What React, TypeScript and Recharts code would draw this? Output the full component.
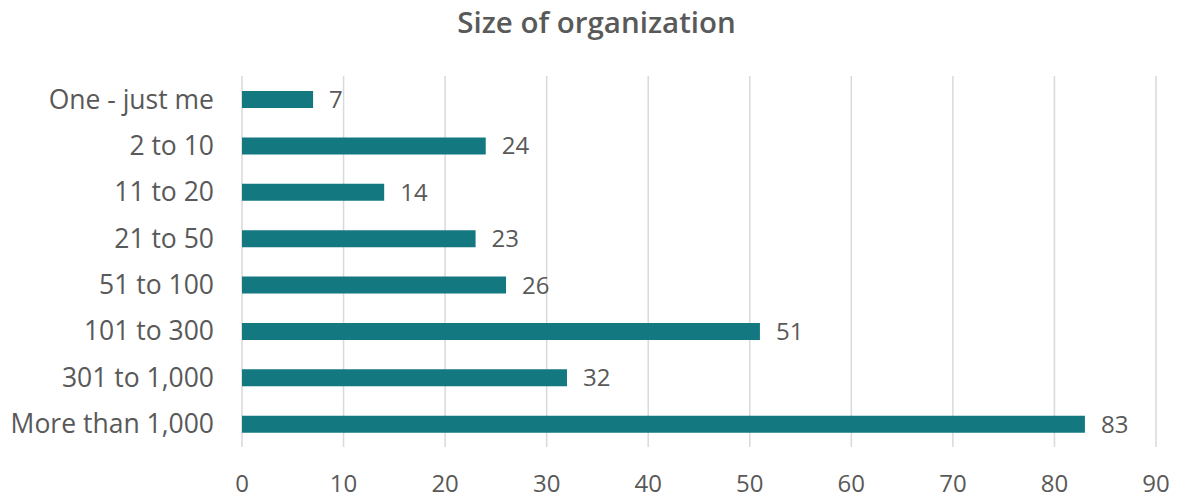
import { Bar, BarChart, CartesianGrid, LabelList, XAxis, YAxis } from 'recharts';

const categories = [
  'One - just me',
  '2 to 10',
  '11 to 20',
  '21 to 50',
  '51 to 100',
  '101 to 300',
  '301 to 1,000',
  'More than 1,000',
];
const counts = [7, 24, 14, 23, 26, 51, 32, 83];
const xTicks = [0, 10, 20, 30, 40, 50, 60, 70, 80, 90];

const FONT = '"Open Sans", sans-serif';
const TEXT = '#595959';

export default function App() {
  const data = categories.map((name, i) => ({ name, value: counts[i] }));

  return (
    <div style={{ position: 'absolute', left: 0, top: 0, width: 1177, height: 495, background: '#fff', fontFamily: FONT }}>
      <div
        style={{
          position: 'absolute',
          left: 0,
          top: 3,
          width: 1193,
          textAlign: 'center',
          fontSize: 29.5,
          fontWeight: 600,
          color: TEXT,
          lineHeight: '38px',
        }}
      >
        Size of organization
      </div>
      <BarChart
        width={1177}
        height={495}
        data={data}
        layout="vertical"
        margin={{ top: 76, right: 21, left: 0, bottom: 0 }}
        barCategoryGap={0}
      >
        <CartesianGrid horizontal={false} stroke="#d9d9d9" strokeWidth={1.5} />
        <XAxis
          type="number"
          domain={[0, 90]}
          ticks={xTicks}
          axisLine={false}
          tickLine={false}
          tickSize={0}
          tickMargin={28}
          tick={{ fontSize: 24, fill: TEXT, fontFamily: FONT }}
          height={48}
        />
        <YAxis
          type="category"
          dataKey="name"
          width={242}
          axisLine={false}
          tickLine={false}
          tickSize={0}
          tickMargin={28}
          tick={{ fontSize: 26.5, fill: TEXT, fontFamily: FONT }}
        />
        <Bar dataKey="value" fill="#137880" barSize={17} isAnimationActive={false}>
          <LabelList dataKey="value" position="right" offset={16} style={{ fontSize: 24, fill: TEXT, fontFamily: FONT }} />
        </Bar>
      </BarChart>
    </div>
  );
}
